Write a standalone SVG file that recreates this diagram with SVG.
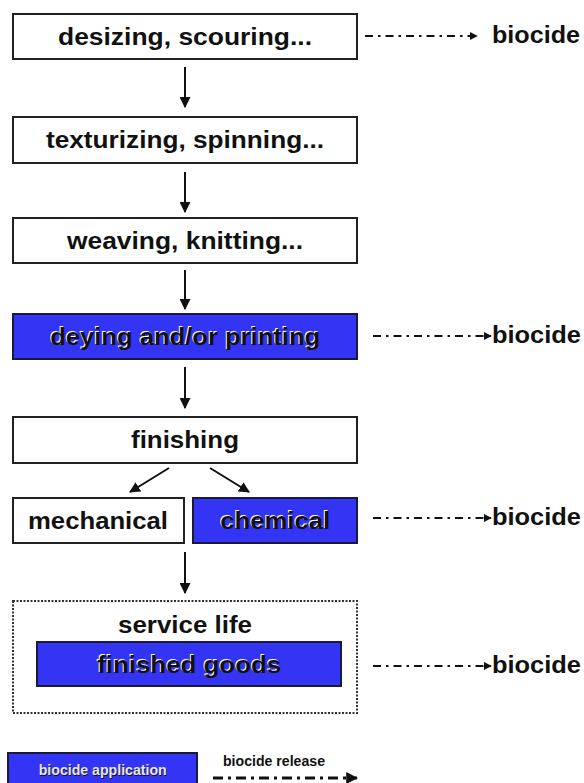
<svg xmlns="http://www.w3.org/2000/svg" width="584" height="783" viewBox="0 0 584 783">
<style>
.box{fill:#fff;stroke:#222;stroke-width:2}
.blue{fill:#3434f4;stroke:#1a1a3a;stroke-width:2}
.t{font-family:"Liberation Sans",Arial,sans-serif;font-weight:bold;font-size:23px;fill:#111;text-anchor:middle}
.sh{fill:#fff}
.bio{font-family:"Liberation Sans",Arial,sans-serif;font-weight:bold;font-size:24px;fill:#111}
.leg{font-family:"Liberation Sans Narrow","Liberation Sans",Arial,sans-serif;font-weight:bold;font-size:15px;text-anchor:middle}
.arr{stroke:#111;stroke-width:2;fill:none}
.dash{stroke:#111;stroke-width:2;fill:none;stroke-dasharray:8 5 2.5 5}
</style>
<defs>
<marker id="ah" viewBox="0 0 10 10" refX="9" refY="5" markerWidth="5.5" markerHeight="5.5" orient="auto" markerUnits="strokeWidth">
<path d="M0,0 L10,5 L0,10 z" fill="#111"/>
</marker>
<marker id="dh" viewBox="0 0 10 10" refX="9" refY="5" markerWidth="4" markerHeight="4" orient="auto" markerUnits="strokeWidth">
<path d="M0,0 L10,5 L0,10 z" fill="#111"/>
</marker>
</defs>

<g id="connectors">
<line class="arr" x1="185" y1="67" x2="185" y2="107" marker-end="url(#ah)"/>
<line class="arr" x1="185" y1="172" x2="185" y2="212" marker-end="url(#ah)"/>
<line class="arr" x1="185" y1="270" x2="185" y2="309" marker-end="url(#ah)"/>
<line class="arr" x1="185" y1="367" x2="185" y2="408" marker-end="url(#ah)"/>
<line class="arr" x1="169" y1="468" x2="130" y2="492" marker-end="url(#ah)"/>
<line class="arr" x1="210" y1="468" x2="249" y2="492" marker-end="url(#ah)"/>
<line class="arr" x1="185" y1="552" x2="185" y2="593" marker-end="url(#ah)"/>
<line class="dash" x1="365" y1="36" x2="477" y2="36" marker-end="url(#dh)"/>
<line class="dash" x1="373" y1="336" x2="491" y2="336" marker-end="url(#dh)"/>
<line class="dash" x1="373" y1="518" x2="491" y2="518" marker-end="url(#dh)"/>
<line class="dash" x1="373" y1="666" x2="491" y2="666" marker-end="url(#dh)"/>
</g>

<g id="desizing">
<rect class="box" x="13" y="14" width="344" height="45"/>
<text class="t" x="185" y="45" textLength="254" lengthAdjust="spacingAndGlyphs">desizing, scouring...</text>
</g>
<g id="bio1"><text class="bio" x="492" y="43" font-size="22" textLength="88" lengthAdjust="spacingAndGlyphs">biocide</text></g>

<g id="texturizing">
<rect class="box" x="13" y="117" width="344" height="46"/>
<text class="t" x="185" y="148" textLength="278" lengthAdjust="spacingAndGlyphs">texturizing, spinning...</text>
</g>

<g id="weaving">
<rect class="box" x="13" y="218" width="344" height="45"/>
<text class="t" x="185" y="249" textLength="236" lengthAdjust="spacingAndGlyphs">weaving, knitting...</text>
</g>

<g id="dyeing">
<rect class="blue" x="13" y="314" width="344" height="45"/>
<text class="t sh" x="184.2" y="344.2" textLength="270" lengthAdjust="spacingAndGlyphs">deying and/or printing</text>
<text class="t" x="185.2" y="345.2" textLength="270" lengthAdjust="spacingAndGlyphs">deying and/or printing</text>
</g>
<g id="bio2"><text class="bio" x="492" y="343" textLength="89" lengthAdjust="spacingAndGlyphs">biocide</text></g>

<g id="finishing">
<rect class="box" x="13" y="417" width="344" height="46"/>
<text class="t" x="185" y="448" textLength="108" lengthAdjust="spacingAndGlyphs">finishing</text>
</g>

<g id="mechanical">
<rect class="box" x="13" y="498" width="171" height="45"/>
<text class="t" x="98" y="529" textLength="140" lengthAdjust="spacingAndGlyphs">mechanical</text>
</g>

<g id="chemical">
<rect class="blue" x="193" y="498" width="164" height="45"/>
<text class="t sh" x="274.2" y="528.2" textLength="110" lengthAdjust="spacingAndGlyphs">chemical</text>
<text class="t" x="275.2" y="529.2" textLength="110" lengthAdjust="spacingAndGlyphs">chemical</text>
</g>
<g id="bio3"><text class="bio" x="492" y="525" textLength="89" lengthAdjust="spacingAndGlyphs">biocide</text></g>

<g id="service">
<rect x="13" y="601" width="344" height="112" fill="#fff" stroke="#333" stroke-width="2" stroke-dasharray="2 1.5"/>
<text class="t" x="185" y="633" font-size="24" textLength="134" lengthAdjust="spacingAndGlyphs">service life</text>
<rect class="blue" x="37" y="642" width="304" height="44"/>
<text class="t sh" x="188.2" y="672.2" font-size="24" textLength="184" lengthAdjust="spacingAndGlyphs">finished goods</text>
<text class="t" x="189.2" y="673.2" font-size="24" textLength="184" lengthAdjust="spacingAndGlyphs">finished goods</text>
</g>
<g id="bio4"><text class="bio" x="492" y="673" textLength="89" lengthAdjust="spacingAndGlyphs">biocide</text></g>

<g id="legend">
<rect class="blue" x="8" y="753" width="189" height="36"/>
<text class="leg" x="103.5" y="775.5" fill="#111" textLength="128" lengthAdjust="spacingAndGlyphs">biocide application</text>
<text class="leg" x="102.7" y="774.7" fill="#e8e8e8" textLength="128" lengthAdjust="spacingAndGlyphs">biocide application</text>
<text class="leg" x="274" y="766" fill="#111" textLength="102" lengthAdjust="spacingAndGlyphs">biocide release</text>
<line x1="213" y1="778" x2="357" y2="778" stroke="#111" stroke-width="3" stroke-dasharray="10 5 3 5" marker-end="url(#dh)"/>
</g>
</svg>
